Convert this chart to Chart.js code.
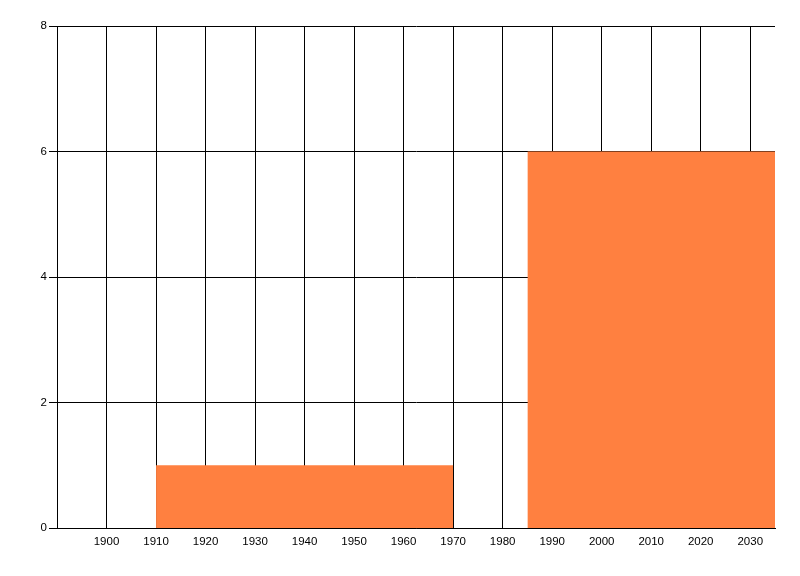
<!DOCTYPE html>
<html>
<head>
<meta charset="utf-8">
<script src="https://cdn.jsdelivr.net/npm/chart.js@4"></script>
<style>
  html, body { margin: 0; padding: 0; background: #fff; }
  #wrap { width: 800px; height: 576px; }
</style>
</head>
<body>
<div id="wrap"><canvas id="chart" width="800" height="576"></canvas></div>
<script>
// Intervalos (anos) e alturas das barras
const binStarts = [1910, 1985];
const binEnds = [1970, 2035];
const binValues = [1, 6];

const xMin = 1890, xMax = 2035;
const xTicks = [1900, 1910, 1920, 1930, 1940, 1950, 1960, 1970, 1980, 1990, 2000, 2010, 2020, 2030];
const yTicks = [0, 2, 4, 6, 8];

const barColor = 'rgb(255, 128, 64)';

// cada barra vira um polígono preenchido até o zero
const datasets = binValues.map((v, i) => ({
  data: [
    { x: binStarts[i], y: 0 },
    { x: binStarts[i], y: v },
    { x: binEnds[i], y: v },
    { x: binEnds[i], y: 0 }
  ],
  fill: 'origin',
  backgroundColor: barColor,
  borderWidth: 0,
  pointRadius: 0,
  tension: 0
}));

const font = { family: '"Liberation Sans", Arial, sans-serif', size: 11.5 };

new Chart(document.getElementById('chart'), {
  type: 'line',
  data: { datasets },
  options: {
    responsive: false,
    animation: false,
    layout: { padding: { top: 26, right: 25, left: 0, bottom: 0 } },
    plugins: { legend: { display: false }, tooltip: { enabled: false } },
    scales: {
      x: {
        type: 'linear',
        min: xMin,
        max: xMax,
        ticks: { color: '#000', font, padding: 7, maxRotation: 0, autoSkip: false, callback: v => String(v) },
        afterBuildTicks: s => { s.ticks = xTicks.map(v => ({ value: v })); },
        afterFit: s => { s.height = 48; },
        grid: { color: '#000', lineWidth: 1, drawTicks: false },
        border: { color: '#000', width: 1 }
      },
      y: {
        min: 0,
        max: 8,
        afterBuildTicks: s => { s.ticks = yTicks.map(v => ({ value: v })); },
        afterFit: s => { s.width = 57; },
        ticks: { color: '#000', font, padding: 2, callback: v => String(v) },
        grid: { color: '#000', lineWidth: 1, tickLength: 8 },
        border: { color: '#000', width: 1 }
      }
    }
  }
});
</script>
</body>
</html>
